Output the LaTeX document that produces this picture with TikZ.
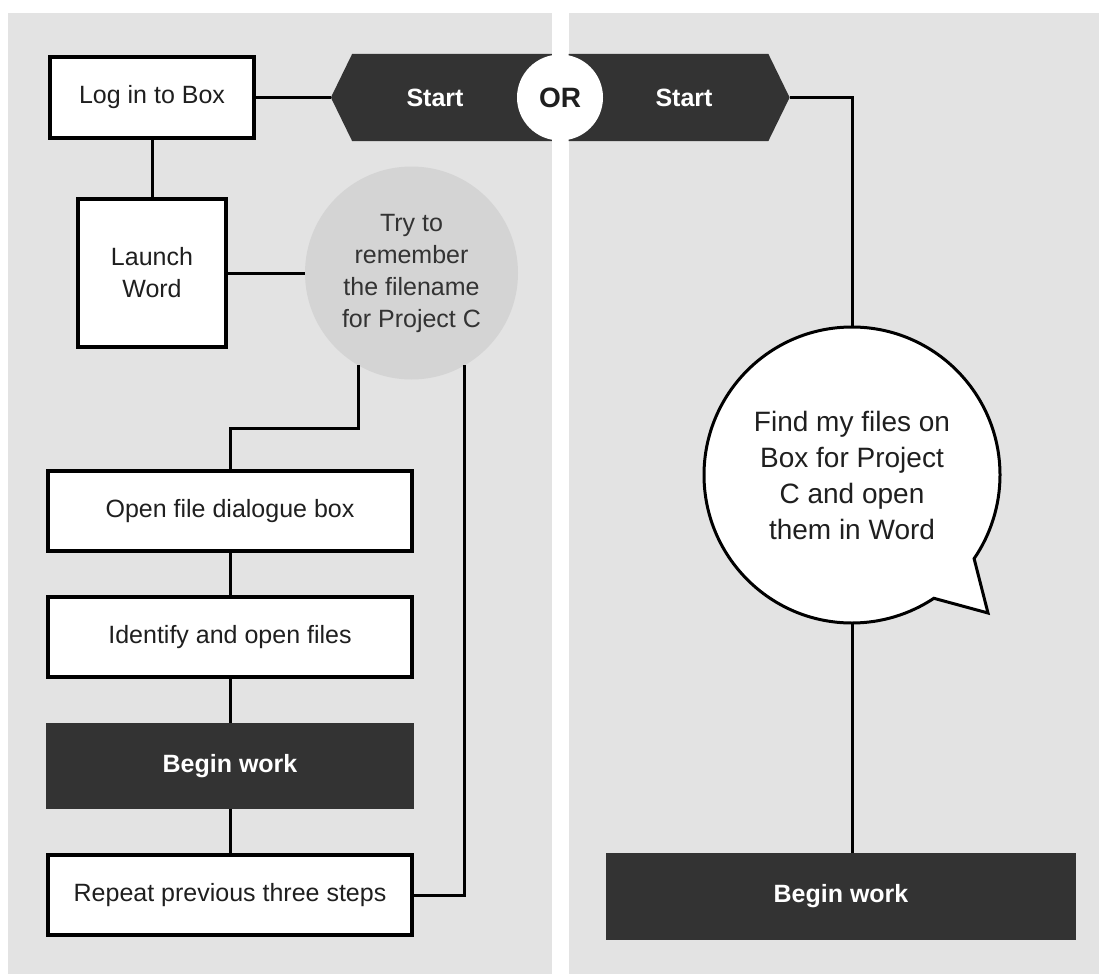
\documentclass[tikz,border=0pt]{standalone}
\usepackage{fontspec}
\setmainfont{Liberation Sans}
\usepackage{tikz}
\usetikzlibrary{positioning,shapes.symbols,shapes.callouts}

\definecolor{panel}{HTML}{E3E3E3}
\definecolor{ink}{HTML}{333333}
\definecolor{cloud}{HTML}{D4D4D4}

\begin{document}
\begin{tikzpicture}[x=1pt, y=-1pt, node distance=46pt,
  every node/.style={inner sep=0pt, outer sep=0pt, align=center,
    text=black!88, font=\fontsize{25}{32}\selectfont},
  box/.style={draw, line width=4pt, fill=white,
    minimum width=364pt, minimum height=80pt},
  darkbox/.style={fill=ink, text=white, font=\fontsize{25}{32}\bfseries,
    minimum width=368pt, minimum height=86pt},
  start/.style={signal, fill=ink, text=white, font=\fontsize{25}{32}\bfseries,
    signal pointer angle=128, minimum width=221pt, minimum height=87pt},
  link/.style={line width=3pt}]

  % the two panels
  \useasboundingbox (0,0) rectangle (1099,974);
  \fill[panel] (8,13) rectangle (552,974);
  \fill[panel] (569,13) rectangle (1099,974);

  % left way
  \node (login) [box, minimum width=204pt, minimum height=81pt] at (152,97.5) {Log in to Box};
  \node (launch) [box, minimum width=148pt, minimum height=148pt] at (152,273) {Launch\\Word};
  \node (thought) [circle, fill=cloud, minimum size=213pt, text=ink] at (411.5,273)
    {Try to\\remember\\the filename\\for Project C};
  \node (openf) [box] at (230,511) {Open file dialogue box};
  \node (ident) [box, below=of openf] {Identify and open files};
  \node (beginL) [darkbox, below=of ident] {Begin work};
  \node (repeat) [box, below=of beginL] {Repeat previous three steps};

  % the two starts
  \node (startL) [start, signal to=west] at (452,97.5) {\makebox[0pt]{Start\hspace{34pt}}};
  \node (startR) [start, signal to=east] at (668.5,97.5) {\makebox[0pt]{\hspace{31pt}Start}};
  \node (or) [circle, fill=white, minimum size=86pt, font=\fontsize{28}{32}\bfseries] at (560,97.5) {OR};

  % right way
  \node (bubble) [ellipse callout, draw, line width=3pt, fill=white,
    minimum width=296pt, minimum height=296pt, callout pointer arc=22,
    callout absolute pointer={(988,613)}, font=\fontsize{28}{36}\selectfont]
    at (852,475) {Find my files on\\Box for Project\\C and open\\them in Word};
  \node (beginR) [darkbox, minimum width=470pt, minimum height=87pt] at (841,896) {Begin work};

  \draw[link] (login.east) -- (startL.west);
  \draw[link] (login) -- (launch);
  \draw[link] (launch.east) -- (thought.west);
  \draw[link] (thought.240) -- ++(0,63) -| (openf.north);
  \draw[link] (thought.300) |- (repeat.east);
  \draw[link] (openf) -- (ident);
  \draw[link] (ident) -- (beginL);
  \draw[link] (beginL) -- (repeat);
  \draw[link] (startR.east) -| (bubble.north);
  \draw[link] (bubble.south) -- (bubble.south |- beginR.north);
\end{tikzpicture}
\end{document}
